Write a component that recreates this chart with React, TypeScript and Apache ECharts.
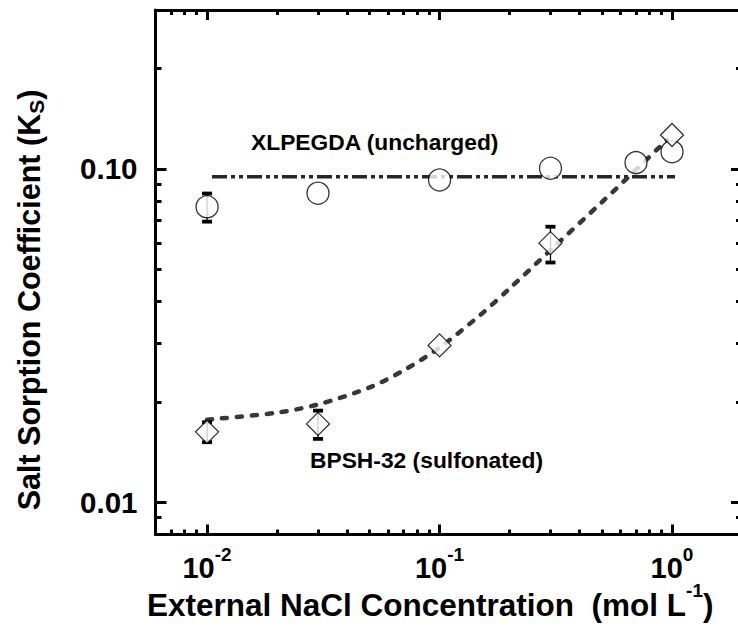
import React, { useEffect, useRef } from 'react';
import * as echarts from 'echarts';

// ---- data (raw units) ----
const xlConc = [0.01, 0.03, 0.1, 0.3, 0.7, 1.0];
const xlKs = [0.077, 0.0846, 0.0927, 0.1005, 0.1045, 0.1127];
const xlErrConc = [0.01];
const xlErrLow = [0.0695];
const xlErrHigh = [0.0844];

const bpConc = [0.01, 0.03, 0.1, 0.3, 1.0];
const bpKs = [0.01626, 0.01718, 0.02955, 0.0599, 0.1265];
const bpErrConc = [0.01, 0.03, 0.3];
const bpErrLow = [0.01514, 0.01549, 0.0524];
const bpErrHigh = [0.01738, 0.01883, 0.0671];

const flatConc = [0.0105, 1.03];
const flatKs = [0.0948, 0.0948];

const fitConc = [0.01, 0.02, 0.03, 0.05, 0.07, 0.1, 0.15, 0.2, 0.3, 0.5, 0.7, 0.95];
const fitKs = [0.01769, 0.01857, 0.01965, 0.0221, 0.02485, 0.02911, 0.03651, 0.04375, 0.05706, 0.0796, 0.0995, 0.1221];

// ---- axes ----
const xRange = [0.006, 2];
const yRange = [0.008, 0.3];
const xMajor = [0.01, 0.1, 1];
const xMajorExp = ['-2', '-1', '0'];
const xMinor = [0.007, 0.008, 0.009, 0.02, 0.03, 0.04, 0.05, 0.06, 0.07, 0.08, 0.09, 0.2, 0.3, 0.4, 0.5, 0.6, 0.7, 0.8, 0.9];
const yMajor = [0.01, 0.1];
const yMajorLabels = ['0.01', '0.10'];
const yMinor = [0.009, 0.02, 0.03, 0.04, 0.05, 0.06, 0.07, 0.08, 0.09, 0.2];

const FONT = '"Liberation Sans", Arial, sans-serif';
const L = (v: number) => Math.log10(v);

function axis(kind: 'x' | 'y', position: string, ticks: number[], len: number, showLine: boolean, label?: any) {
  const range = kind === 'x' ? xRange : yRange;
  return {
    type: 'value',
    position,
    min: L(range[0]),
    max: L(range[1]),
    axisLine: { show: showLine, onZero: false, lineStyle: { color: '#000', width: 3 } },
    axisTick: {
      show: true,
      inside: true,
      length: len,
      customValues: ticks.map(L),
      lineStyle: { color: '#000', width: 3 },
    },
    axisLabel: label ? label : { show: false },
    splitLine: { show: false },
  };
}

export default function App() {
  const ref = useRef<HTMLDivElement>(null);
  useEffect(() => {
    document.body.style.margin = '0';
    const chart = echarts.init(ref.current!, null, { renderer: 'svg' });

    const xLabel = {
      show: true,
      customValues: xMajor.map(L),
      margin: 10,
      formatter: (v: number) => {
        const i = xMajor.findIndex((m) => Math.abs(L(m) - v) < 1e-6);
        return `{b|10}{s|${xMajorExp[i]}}`;
      },
      rich: {
        b: { fontFamily: FONT, fontWeight: 'bold', fontSize: 29, color: '#000', lineHeight: 38, verticalAlign: 'bottom' },
        s: { fontFamily: FONT, fontWeight: 'bold', fontSize: 19, color: '#000', lineHeight: 18, verticalAlign: 'top' },
      },
    };
    const yLabel = {
      show: true,
      customValues: yMajor.map(L),
      margin: 18,
      formatter: (v: number) => {
        const i = yMajor.findIndex((m) => Math.abs(L(m) - v) < 1e-6);
        return yMajorLabels[i];
      },
      fontFamily: FONT,
      fontWeight: 'bold',
      fontSize: 29.5,
      color: '#000',
    };

    const errItem = (params: any, api: any) => {
      const x = api.value(0);
      const lo = api.coord([x, api.value(1)]);
      const hi = api.coord([x, api.value(2)]);
      const w = 5;
      return {
        type: 'group',
        children: [
          { type: 'line', shape: { x1: lo[0], y1: lo[1], x2: hi[0], y2: hi[1] }, style: { stroke: '#000', lineWidth: 1.3 } },
          { type: 'line', shape: { x1: hi[0] - w, y1: hi[1], x2: hi[0] + w, y2: hi[1] }, style: { stroke: '#000', lineWidth: 3.8 } },
          { type: 'line', shape: { x1: lo[0] - w, y1: lo[1], x2: lo[0] + w, y2: lo[1] }, style: { stroke: '#000', lineWidth: 3.8 } },
        ],
      };
    };

    chart.setOption({
      animation: false,
      grid: { left: 155.5, top: 10, right: -4, bottom: 91.5, outerBoundsMode: 'none', containLabel: false },
      xAxis: [
        axis('x', 'bottom', xMajor, 10, true, xLabel),
        axis('x', 'bottom', xMinor, 5, false),
        axis('x', 'top', xMajor, 10, true),
        axis('x', 'top', xMinor, 5, false),
      ],
      yAxis: [
        axis('y', 'left', yMajor, 11, true, yLabel),
        axis('y', 'left', yMinor, 6, false),
        axis('y', 'right', yMajor, 11, true),
        axis('y', 'right', yMinor, 6, false),
      ],
      graphic: [
        {
          type: 'text', x: 251, y: 141.5, z: 10,
          style: { text: 'XLPEGDA (uncharged)', fontFamily: FONT, fontWeight: 'bold', fontSize: 22.8, fill: '#000', verticalAlign: 'middle' },
        },
        {
          type: 'text', x: 310, y: 460, z: 10,
          style: { text: 'BPSH-32 (sulfonated)', fontFamily: FONT, fontWeight: 'bold', fontSize: 22.8, fill: '#000', verticalAlign: 'middle' },
        },
        {
          type: 'text', x: 147, y: 601, z: 10,
          style: {
            text: '{b|External NaCl Concentration  (mol L}{s|-1}{b|)}',
            verticalAlign: 'middle',
            rich: {
              b: { fontFamily: FONT, fontWeight: 'bold', fontSize: 31.5, fill: '#000', lineHeight: 40, verticalAlign: 'bottom' },
              s: { fontFamily: FONT, fontWeight: 'bold', fontSize: 19, fill: '#000', lineHeight: 18, verticalAlign: 'top' },
            },
          },
        },
        {
          type: 'text', x: 30, y: 300, rotation: Math.PI / 2, z: 10,
          style: {
            text: '{b|Salt Sorption Coefficient (K}{s|S}{b|)}',
            align: 'center',
            verticalAlign: 'middle',
            rich: {
              b: { fontFamily: FONT, fontWeight: 'bold', fontSize: 30.5, fill: '#000', lineHeight: 34, verticalAlign: 'top' },
              s: { fontFamily: FONT, fontWeight: 'bold', fontSize: 21, fill: '#000', lineHeight: 20, verticalAlign: 'bottom' },
            },
          },
        },
      ],
      series: [
        {
          type: 'line',
          name: 'XLPEGDA fit',
          data: flatConc.map((c, i) => [L(c), L(flatKs[i])]),
          symbol: 'none',
          z: 2,
          lineStyle: { color: '#262626', width: 3.4, type: [15, 4, 4, 4, 4, 4] },
        },
        {
          type: 'line',
          name: 'BPSH fit',
          data: fitConc.map((c, i) => [L(c), L(fitKs[i])]),
          smooth: 0.3,
          symbol: 'none',
          z: 2,
          lineStyle: { color: '#383838', width: 4.5, type: [5, 10], cap: 'round' },
        },
        {
          type: 'custom',
          name: 'XL err',
          renderItem: errItem,
          encode: { x: 0, y: [1, 2] },
          z: 3,
          data: xlErrConc.map((c, i) => [L(c), L(xlErrLow[i]), L(xlErrHigh[i])]),
        },
        {
          type: 'custom',
          name: 'BP err',
          renderItem: errItem,
          encode: { x: 0, y: [1, 2] },
          z: 3,
          data: bpErrConc.map((c, i) => [L(c), L(bpErrLow[i]), L(bpErrHigh[i])]),
        },
        {
          type: 'scatter',
          name: 'XLPEGDA (uncharged)',
          data: xlConc.map((c, i) => [L(c), L(xlKs[i])]),
          symbol: 'circle',
          symbolSize: 22,
          z: 4,
          itemStyle: { color: '#fff', borderColor: '#000', borderWidth: 1.3 },
        },
        {
          type: 'scatter',
          name: 'BPSH-32 (sulfonated)',
          data: bpConc.map((c, i) => [L(c), L(bpKs[i])]),
          symbol: 'diamond',
          symbolSize: 23,
          z: 4,
          itemStyle: { color: '#fff', borderColor: '#000', borderWidth: 1.3 },
        },
      ],
    });
    return () => chart.dispose();
  }, []);
  return <div ref={ref} style={{ position: 'absolute', left: 0, top: 0, width: 738, height: 626 }} />;
}
